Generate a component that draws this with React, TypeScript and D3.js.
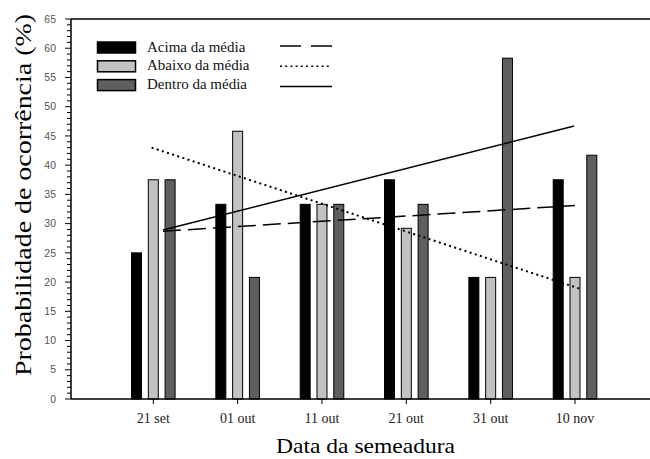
import React from 'react';
import * as d3 from 'd3';

const dates = ['21 set', '01 out', '11 out', '21 out', '31 out', '10 nov'];
const seriesNames = ['Acima da média', 'Abaixo da média', 'Dentro da média'];
const acima = [25, 33.3, 33.3, 37.5, 20.8, 37.5];
const abaixo = [37.5, 45.8, 33.3, 29.2, 20.8, 20.8];
const dentro = [37.5, 20.8, 33.3, 33.3, 58.3, 41.7];
const yMajorTicks = [0, 5, 10, 15, 20, 25, 30, 35, 40, 45, 50, 55, 60, 65];
// trend lines: [date index position, value]
const trendAcima: [number, number][] = [[0.115, 28.7], [5.0, 33.1]];
const trendAbaixo: [number, number][] = [[-0.02, 43.0], [5.05, 18.9]];
const trendDentro: [number, number][] = [[0.115, 28.9], [4.99, 46.7]];

const W = 650, H = 459;
const left = 71, right = 650, top = 19, bottom = 399;

const fills = ['#000000', '#c2c2c2', '#5f5f5f'];
const dashes = ['18 7', '2 3.4', null];
const legendDashes = ['21 10', '2 3.2', null];

export default function App() {
  const y = d3.scaleLinear().domain([0, 65]).range([bottom, top]);
  const xPos = d3.scaleLinear().domain([0, 5]).range([153.3, 575]);
  const inner = d3.scaleBand<string>().domain(seriesNames).range([-22.3, 22.3]).paddingInner(0.345).paddingOuter(0);
  const seriesVals = [acima, abaixo, dentro];
  const trends = [trendAcima, trendAbaixo, trendDentro];
  const line = d3.line<[number, number]>().x(d => xPos(d[0])).y(d => y(d[1]));
  const minorTicks = d3.range(0, 66, 1);
  const serif = '"Liberation Serif", "Times New Roman", serif';

  return (
    <svg width={W} height={H} style={{ position: 'absolute', left: 0, top: 0, background: '#fff' }}>
      {/* bars */}
      {seriesVals.map((vals, si) =>
        vals.map((v, i) => {
          const x0 = xPos(i) + (inner(seriesNames[si]) as number);
          return (
            <rect key={`b${si}-${i}`} x={x0 + 0.5} y={y(v)} width={inner.bandwidth() - 1} height={bottom - y(v)}
              fill={fills[si]} stroke="#000" strokeWidth={1} />
          );
        })
      )}
      {/* trend lines */}
      {trends.map((t, si) => (
        <path key={`t${si}`} d={line(t) || ''} fill="none" stroke="#000"
          strokeWidth={si === 1 ? 2 : 1.5}
          strokeDasharray={dashes[si] || undefined} />
      ))}
      {/* frame */}
      <line x1={left} x2={right} y1={top} y2={top} stroke="#000" strokeWidth={1.5} />
      <line x1={left} x2={right} y1={bottom} y2={bottom} stroke="#000" strokeWidth={1.5} />
      <line x1={left} x2={left} y1={top} y2={bottom} stroke="#000" strokeWidth={1.5} />
      {/* y ticks */}
      {minorTicks.map(t => (
        <line key={`m${t}`} x1={left} x2={left - (t % 5 === 0 ? 6 : 4)} y1={y(t)} y2={y(t)} stroke="#000" strokeWidth={1} />
      ))}
      {yMajorTicks.map(t => (
        <text key={`yl${t}`} x={56} y={y(t)} dy="0.35em" textAnchor="end" fontSize={10.5}
          fontFamily='"Liberation Sans", Arial, sans-serif' fill="#555">{t}</text>
      ))}
      {/* x ticks */}
      {dates.map((d, i) => (
        <g key={`x${i}`}>
          <line x1={xPos(i)} x2={xPos(i)} y1={bottom} y2={bottom + 5} stroke="#000" strokeWidth={1} />
          <text x={xPos(i)} y={423} textAnchor="middle" fontSize={14} fontFamily={serif} fill="#222">{d}</text>
        </g>
      ))}
      {/* axis titles */}
      <text x={365.5} y={453} textAnchor="middle" fontSize={21} fontFamily={serif} fill="#000"
        textLength={179} lengthAdjust="spacingAndGlyphs">Data da semeadura</text>
      <text transform={`translate(31,195) rotate(-90)`} textAnchor="middle" fontSize={23} fontFamily={serif} fill="#000"
        textLength={362} lengthAdjust="spacingAndGlyphs">Probabilidade de ocorrência (%)</text>
      {/* legend */}
      {seriesNames.map((n, si) => {
        const ry = 42 + si * 18.8;
        return (
          <g key={`lg${si}`}>
            <rect x={97.5} y={ry} width={38} height={11} fill={fills[si]} stroke="#000" strokeWidth={1.5} />
            <text x={147} y={ry + 9.5} fontSize={15} fontFamily={serif} fill="#111">{n}</text>
            <line x1={280} x2={332} y1={ry + 4 + si * 1.5} y2={ry + 4 + si * 1.5} stroke="#000"
              strokeWidth={si === 1 ? 1.6 : 1.5} strokeDasharray={legendDashes[si] || undefined} />
          </g>
        );
      })}
    </svg>
  );
}
